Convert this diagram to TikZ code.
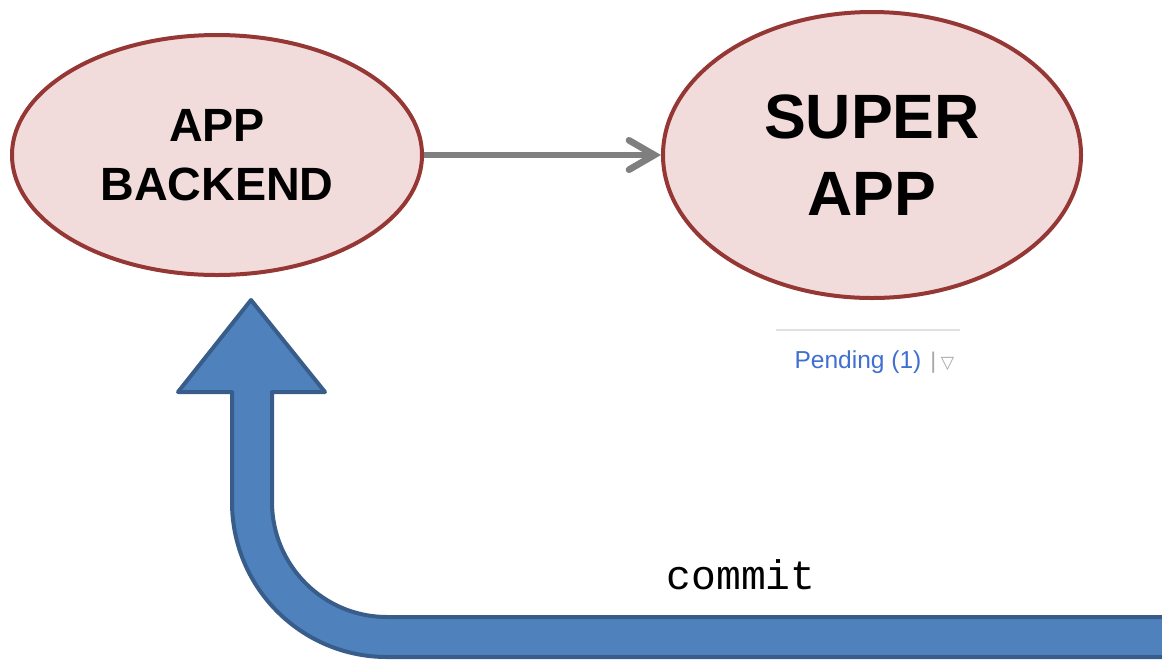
\documentclass[tikz,border=0pt]{standalone}
\usepackage{fontspec}
\setmainfont{Liberation Sans}
\setmonofont{Liberation Mono}
\newfontfamily\symfont{DejaVu Sans}
\usetikzlibrary{positioning,arrows.meta,shapes.geometric}

\definecolor{ovalfill}{HTML}{F2DCDB}
\definecolor{ovaldraw}{HTML}{953735}
\definecolor{linkgray}{HTML}{7F7F7F}
\definecolor{blockfill}{HTML}{4F81BD}
\definecolor{blockdraw}{HTML}{385D8A}
\definecolor{pendblue}{HTML}{3F6FD0}

\begin{document}
\begin{tikzpicture}[
  x=0.75pt, y=0.75pt,
  oval/.style={
    ellipse, draw=ovaldraw, fill=ovalfill,
    line width=3pt, inner sep=0pt,
    align=center
  },
  link/.style={
    draw=linkgray, line width=5pt,
    -{Straight Barb[length=19pt,width=22pt,line cap=round]}
  },
  block/.style={
    fill=blockfill, draw=blockdraw, line width=3pt, line join=round
  }
]

\useasboundingbox (0,0) rectangle (1162,-662);

% =====================================================
% OVALS
% =====================================================

\node[oval, minimum width=307.5pt, minimum height=180pt,
  font=\bfseries\fontsize{35pt}{44pt}\selectfont] (backend) at (217,-155)
{APP\\BACKEND};

\node[oval, minimum width=313.5pt, minimum height=214.5pt, right=177.75pt of backend,
  font=\bfseries\fontsize{47pt}{58pt}\selectfont] (superapp)
{SUPER\\APP};

\draw[link] (backend) -- (superapp);

% =====================================================
% PENDING
% =====================================================

\coordinate (ruleL) at (776,-330);
\coordinate (ruleR) at (960,-330);
\draw[draw=black!12, line width=1.2pt] (ruleL) -- (ruleR);

\node[anchor=base, text=pendblue, font=\fontsize{18.4pt}{22pt}\selectfont] (pending) at (858,-368)
{Pending (1)};
\node[anchor=base west, text=black!35, inner sep=0pt, font=\fontsize{17pt}{20pt}\selectfont, xshift=3pt] (bar) at (pending.base east)
{|};
\node[anchor=base west, text=black!35, inner sep=0pt, font=\symfont\fontsize{13pt}{16pt}\selectfont, xshift=3pt] (menu) at (bar.base east)
{▽};

% =====================================================
% COMMIT
% =====================================================

\draw[block] (1175,-617) -- (387,-617)
  arc[start angle=270, end angle=180, radius=115]
  -- (272,-392) -- (325,-392) -- (251,-300) -- (178,-392) -- (232,-392)
  -- (232,-502)
  arc[start angle=180, end angle=270, radius=155]
  -- (1175,-657) -- cycle;

\node[anchor=base, font=\ttfamily\fontsize{31pt}{36pt}\selectfont] (commit) at (741,-589)
{commit};

\end{tikzpicture}
\end{document}
